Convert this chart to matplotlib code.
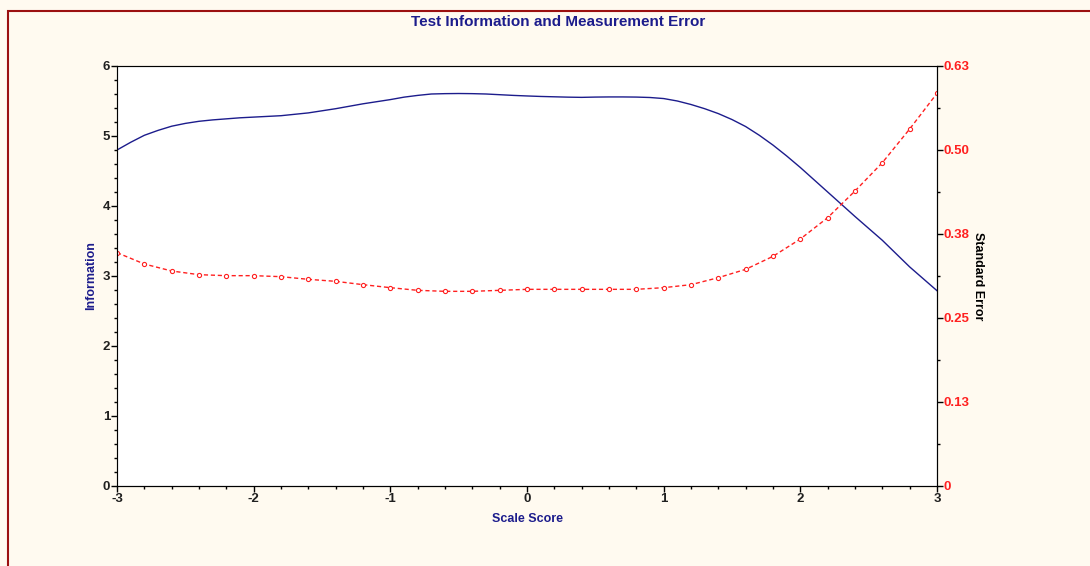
import matplotlib.pyplot as plt
from matplotlib.patches import Rectangle
from matplotlib.ticker import MultipleLocator, FixedLocator

plt.rcParams['font.family'] = ['Liberation Sans', 'DejaVu Sans']
plt.rcParams['axes.unicode_minus'] = False

# information curve, read every 0.1 on the scale score
info_scores = [round(-3.0 + 0.1 * i, 1) for i in range(61)]
information = [4.80, 4.91, 5.01, 5.08, 5.14, 5.18, 5.21, 5.23, 5.245, 5.26,
               5.27, 5.28, 5.29, 5.31, 5.33, 5.36, 5.39, 5.425, 5.46, 5.49,
               5.52, 5.555, 5.58, 5.60, 5.605, 5.607, 5.605, 5.60, 5.59, 5.58,
               5.572, 5.565, 5.56, 5.555, 5.552, 5.556, 5.558, 5.558, 5.556, 5.55,
               5.535, 5.50, 5.45, 5.39, 5.32, 5.235, 5.135, 5.01, 4.87, 4.715,
               4.55, 4.375, 4.20, 4.025, 3.85, 3.68, 3.51, 3.32, 3.13, 2.96,
               2.79]

# standard error, marked every 0.2
se_scores = [-3.0, -2.8, -2.6, -2.4, -2.2, -2.0, -1.8, -1.6, -1.4, -1.2, -1.0,
             -0.8, -0.6, -0.4, -0.2, 0.0, 0.2, 0.4, 0.6, 0.8, 1.0,
             1.2, 1.4, 1.6, 1.8, 2.0, 2.2, 2.4, 2.6, 2.8, 3.0]
std_error = [0.350, 0.333, 0.3225, 0.317, 0.3155, 0.3155, 0.314, 0.310, 0.307, 0.302, 0.2975,
             0.2935, 0.292, 0.292, 0.2935, 0.295, 0.295, 0.295, 0.295, 0.295, 0.2975,
             0.302, 0.3125, 0.325, 0.3445, 0.3705, 0.4025, 0.4425, 0.485, 0.5355, 0.589]

se_ticks = [0, 0.126, 0.252, 0.378, 0.504, 0.63]
se_labels = ['0', '0.13', '0.25', '0.38', '0.50', '0.63']

bg = '#fffaf0'
navy = '#1c1c8c'

fig = plt.figure(figsize=(10.9, 5.66), dpi=100, facecolor=bg)
fig.patches.append(Rectangle((8 / 1090, -0.05), 1.1, 1 - 11 / 566 + 0.05,
                             transform=fig.transFigure, fill=False,
                             edgecolor='#9b1010', linewidth=1.5))

ax = fig.add_axes([117 / 1090, 80 / 566, 820 / 1090, 420 / 566])
ax.set_facecolor('white')
ax.plot(info_scores, information, color=navy, linewidth=1.0)
ax.set_xlim(-3, 3)
ax.set_ylim(0, 6)
ax.xaxis.set_major_locator(MultipleLocator(1))
ax.xaxis.set_minor_locator(MultipleLocator(0.2))
ax.yaxis.set_major_locator(MultipleLocator(1))
ax.yaxis.set_minor_locator(MultipleLocator(0.2))
ax.tick_params(which='major', length=4, width=1, labelsize=9.5, pad=1)
ax.tick_params(which='minor', length=2, width=1)
for lab in ax.get_xticklabels() + ax.get_yticklabels():
    lab.set_fontweight('bold')
    lab.set_color('#202020')
ax.spines['left'].set_color('#707070')
ax.spines['top'].set_color('#606060')
ax.spines['bottom'].set_color('black')

ax.set_xlabel('Scale Score', color=navy, fontweight='bold', fontsize=9, labelpad=6)
ax.set_ylabel('Information', color=navy, fontweight='bold', fontsize=9, labelpad=4)

ax2 = ax.twinx()
ax2.plot(se_scores, std_error, color='#ff2020', linewidth=1.0, linestyle=(0, (3, 2)),
         marker='o', markersize=3, markerfacecolor='white', markeredgecolor='#ff2020',
         markeredgewidth=0.8)
ax2.set_ylim(0, 0.63)
ax2.yaxis.set_major_locator(FixedLocator(se_ticks))
ax2.set_yticklabels(se_labels)
ax2.yaxis.set_minor_locator(FixedLocator([0.063, 0.189, 0.315, 0.441, 0.567]))
ax2.tick_params(which='major', length=4, width=1, labelsize=9.5, pad=1, labelcolor='#ff2020')
ax2.tick_params(which='minor', length=2, width=1)
for lab in ax2.get_yticklabels():
    lab.set_fontweight('bold')
ax2.spines['right'].set_color('black')
ax2.set_ylabel('Standard Error', color='black', fontweight='bold', fontsize=9,
               rotation=-90, labelpad=10)

fig.text(558 / 1090, 1 - 22 / 566, 'Test Information and Measurement Error',
         ha='center', va='center', color=navy, fontweight='bold', fontsize=11)

fig.savefig('out.png', dpi=100, facecolor=bg)
